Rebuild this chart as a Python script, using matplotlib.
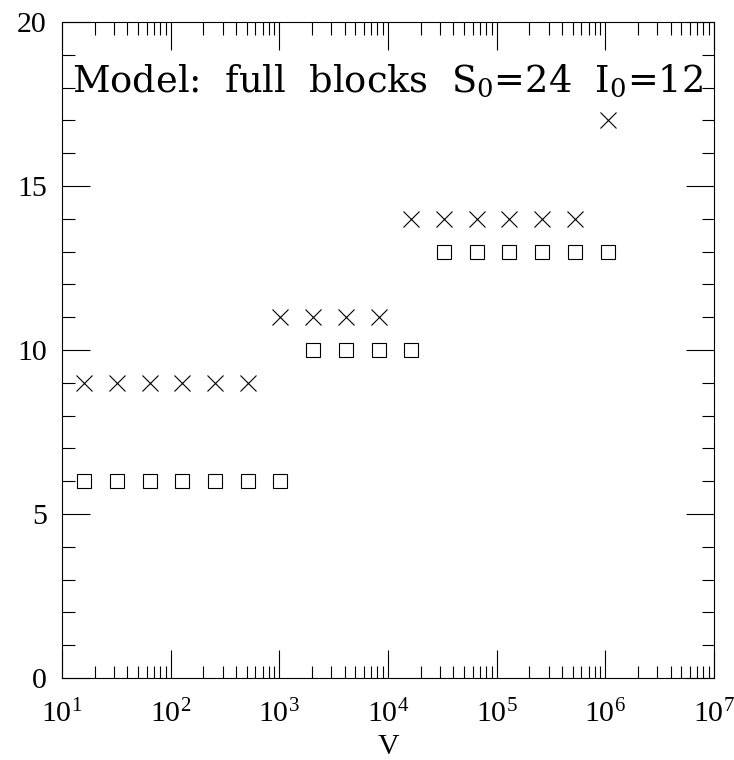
import numpy as np
import matplotlib
matplotlib.use("Agg")
import matplotlib.pyplot as plt
from matplotlib.ticker import LogLocator, MultipleLocator

plt.rcParams["font.family"] = "Liberation Serif"
plt.rcParams["mathtext.fontset"] = "custom"
plt.rcParams["mathtext.rm"] = "Liberation Serif"
plt.rcParams["mathtext.it"] = "Liberation Serif"

# data
cross_v = [16, 32, 64, 128, 256, 512,
           1024, 2048, 4096, 8192,
           16384, 32768, 65536, 131072, 262144, 524288,
           1048576]
cross_y = [9, 9, 9, 9, 9, 9,
           11, 11, 11, 11,
           14, 14, 14, 14, 14, 14,
           17]
square_v = [16, 32, 64, 128, 256, 512, 1024,
            2048, 4096, 8192, 16384,
            32768, 65536, 131072, 262144, 524288, 1048576]
square_y = [6, 6, 6, 6, 6, 6, 6,
            10, 10, 10, 10,
            13, 13, 13, 13, 13, 13]

fig = plt.figure(figsize=(7.34, 7.60), dpi=100)
ax = fig.add_axes([62 / 734, 1 - 678 / 760, 652 / 734, 656 / 760])

ax.plot(cross_v, cross_y, "x", color="black", markersize=11, markeredgewidth=0.8)
ax.plot(square_v, square_y, "s", color="black", markerfacecolor="none",
        markersize=10, markeredgewidth=0.8)

ax.set_xscale("log")
ax.set_xlim(10, 1e7)
ax.set_ylim(0, 20)
ax.xaxis.set_major_locator(LogLocator(base=10, numticks=10))
ax.xaxis.set_minor_locator(LogLocator(base=10, subs=np.arange(2, 10), numticks=100))
ax.yaxis.set_major_locator(MultipleLocator(5))
ax.yaxis.set_minor_locator(MultipleLocator(1))

ax.tick_params(which="both", direction="in", top=True, right=True, width=0.8)
ax.tick_params(which="major", length=20, labelsize=21.5)
ax.tick_params(which="minor", length=9)
ax.tick_params(axis="x", which="major", pad=16)
ax.tick_params(axis="y", which="major", pad=11)
for s in ax.spines.values():
    s.set_linewidth(0.8)

ax.set_xlabel("V", fontsize=21.5, labelpad=4)

# in-plot title
ax.text(0.015, 0.893, "Model:  full  blocks  S$_0$=24  I$_0$=12", transform=ax.transAxes,
        ha="left", va="baseline", fontsize=26.5,
        family="DejaVu Serif", math_fontfamily="dejavuserif")

fig.savefig("out.png", dpi=100)
